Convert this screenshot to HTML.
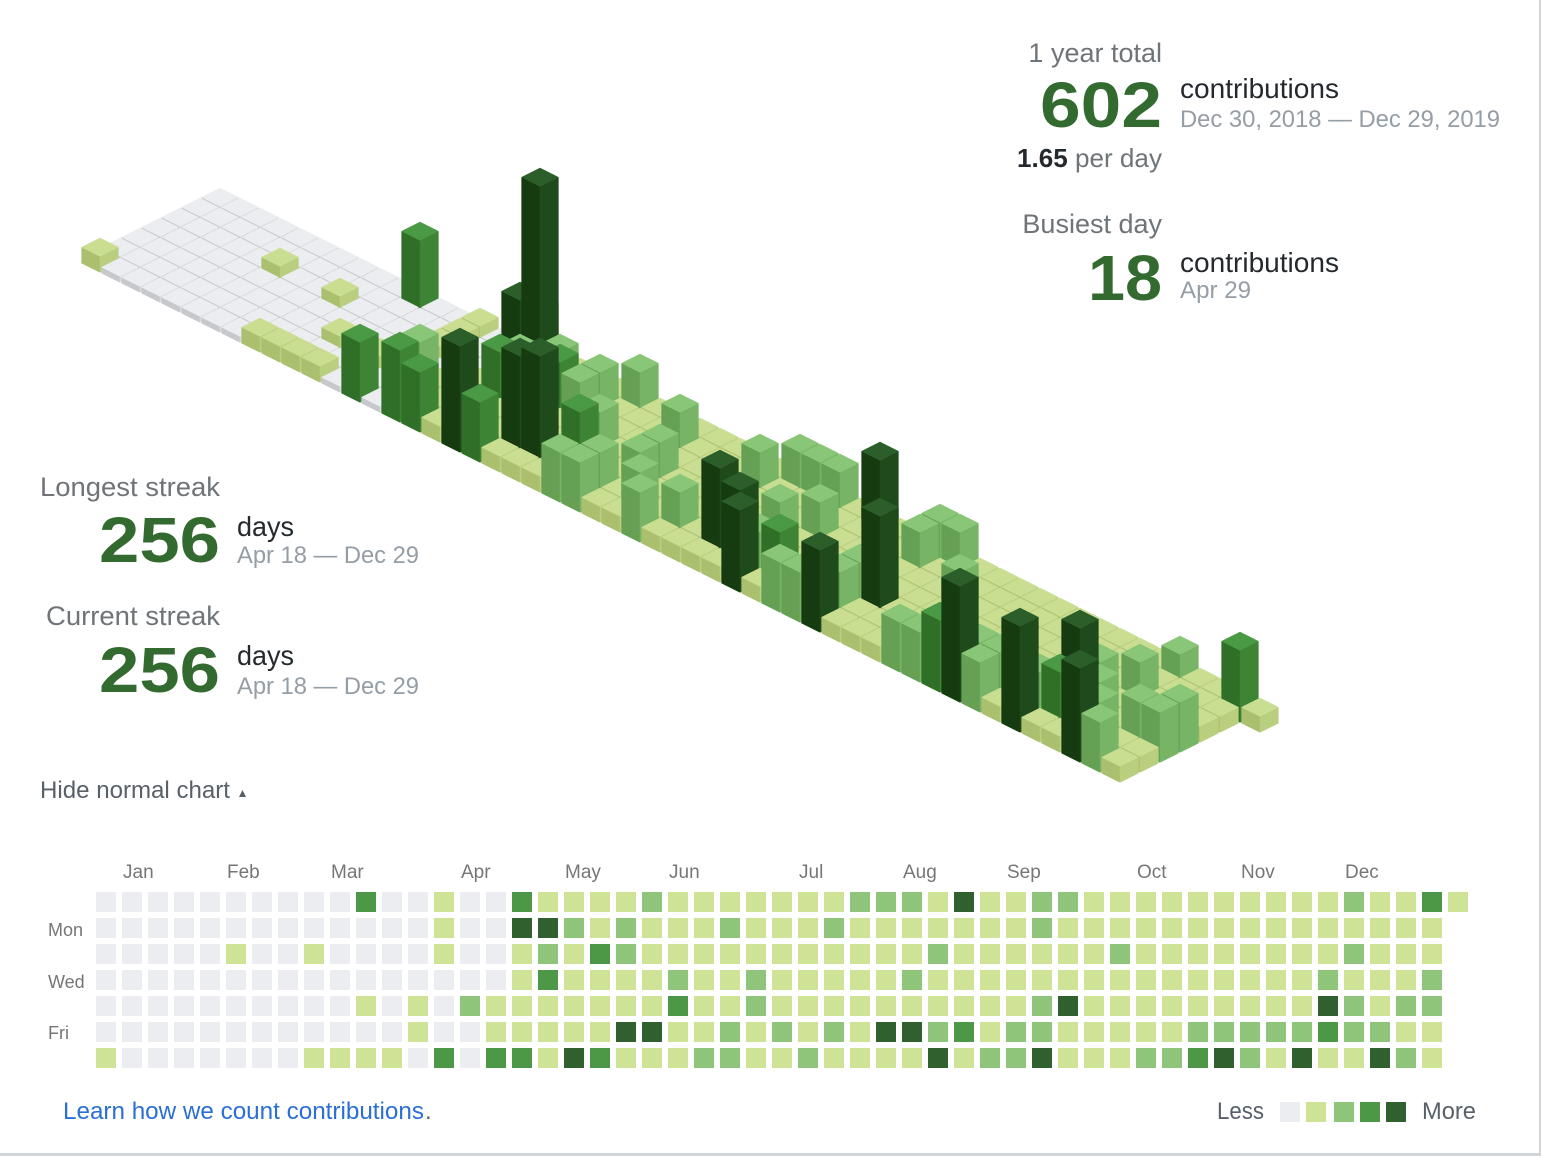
<!DOCTYPE html>
<html>
<head>
<meta charset="utf-8">
<style>
  html, body { margin:0; padding:0; background:#fff; }
  body { width:1542px; height:1158px; overflow:hidden; position:relative; }
  svg { position:absolute; left:0; top:0; }
  text { font-family: "Liberation Sans", Arial, sans-serif; }
</style>
</head>
<body>
<svg id="s" width="1542" height="1158" viewBox="0 0 1542 1158" xmlns="http://www.w3.org/2000/svg">
  <!-- borders -->
  <rect x="1539" y="0" width="2" height="1156" fill="#d1d5da"/>
  <rect x="0" y="1153" width="1541" height="3" fill="#d1d5da"/>

  <!-- isometric chart -->
  <g id="iso"></g>

  <!-- right stats -->
  <text x="1162" y="62" font-size="27" fill="#6f7479" text-anchor="end">1 year total</text>
  <text x="1040" y="127" font-size="64" font-weight="bold" fill="#336a2f" textLength="122" lengthAdjust="spacingAndGlyphs">602</text>
  <text x="1180" y="98" font-size="28" fill="#24292e" textLength="159" lengthAdjust="spacingAndGlyphs">contributions</text>
  <text x="1180" y="127" font-size="24" fill="#959da5" textLength="320" lengthAdjust="spacingAndGlyphs">Dec 30, 2018 — Dec 29, 2019</text>
  <text x="1017" y="167" font-size="26" fill="#6f7479" textLength="145" lengthAdjust="spacingAndGlyphs"><tspan font-weight="bold" fill="#24292e">1.65</tspan> per day</text>

  <text x="1162" y="233" font-size="27" fill="#6f7479" text-anchor="end">Busiest day</text>
  <text x="1088" y="300" font-size="64" font-weight="bold" fill="#336a2f" textLength="74" lengthAdjust="spacingAndGlyphs">18</text>
  <text x="1180" y="272" font-size="28" fill="#24292e" textLength="159" lengthAdjust="spacingAndGlyphs">contributions</text>
  <text x="1180" y="298" font-size="24" fill="#959da5" textLength="71" lengthAdjust="spacingAndGlyphs">Apr 29</text>

  <!-- left stats -->
  <text x="40" y="496" font-size="27" fill="#6f7479" textLength="180" lengthAdjust="spacingAndGlyphs">Longest streak</text>
  <text x="99" y="562" font-size="64" font-weight="bold" fill="#336a2f" textLength="121" lengthAdjust="spacingAndGlyphs">256</text>
  <text x="237" y="536" font-size="28" fill="#24292e" textLength="57" lengthAdjust="spacingAndGlyphs">days</text>
  <text x="237" y="563" font-size="24" fill="#959da5" textLength="182" lengthAdjust="spacingAndGlyphs">Apr 18 — Dec 29</text>

  <text x="46" y="625" font-size="27" fill="#6f7479" textLength="174" lengthAdjust="spacingAndGlyphs">Current streak</text>
  <text x="99" y="692" font-size="64" font-weight="bold" fill="#336a2f" textLength="121" lengthAdjust="spacingAndGlyphs">256</text>
  <text x="237" y="665" font-size="28" fill="#24292e" textLength="57" lengthAdjust="spacingAndGlyphs">days</text>
  <text x="237" y="694" font-size="24" fill="#959da5" textLength="182" lengthAdjust="spacingAndGlyphs">Apr 18 — Dec 29</text>

  <text x="40" y="798" font-size="24" fill="#586069" textLength="190" lengthAdjust="spacingAndGlyphs">Hide normal chart</text>
  <polygon points="239,797 246,797 242.5,790" fill="#586069"/>

  <!-- month labels -->
  <g font-size="19" fill="#767676">
    <text x="123" y="878">Jan</text>
    <text x="227" y="878">Feb</text>
    <text x="331" y="878">Mar</text>
    <text x="461" y="878">Apr</text>
    <text x="565" y="878">May</text>
    <text x="669" y="878">Jun</text>
    <text x="799" y="878">Jul</text>
    <text x="903" y="878">Aug</text>
    <text x="1007" y="878">Sep</text>
    <text x="1137" y="878">Oct</text>
    <text x="1241" y="878">Nov</text>
    <text x="1345" y="878">Dec</text>
  </g>
  <g font-size="18" fill="#767676">
    <text x="48" y="936">Mon</text>
    <text x="48" y="988">Wed</text>
    <text x="48" y="1039">Fri</text>
  </g>

  <!-- normal grid -->
  <g id="grid"></g>

  <!-- footer -->
  <text x="63" y="1119" font-size="24" fill="#2a6fd6" textLength="361" lengthAdjust="spacingAndGlyphs">Learn how we count contributions</text>
  <text x="425" y="1119" font-size="24" fill="#586069">.</text>

  <text x="1217" y="1119" font-size="24" fill="#586069" textLength="47" lengthAdjust="spacingAndGlyphs">Less</text>
  <rect x="1280" y="1102" width="20" height="20" fill="#ebedf0"/>
  <rect x="1306" y="1102" width="20" height="20" fill="#cfe397"/>
  <rect x="1334" y="1102" width="20" height="20" fill="#8fc57a"/>
  <rect x="1360" y="1102" width="20" height="20" fill="#4c9846"/>
  <rect x="1386" y="1102" width="20" height="20" fill="#2f602d"/>
  <text x="1422" y="1119" font-size="24" fill="#586069" textLength="54" lengthAdjust="spacingAndGlyphs">More</text>
</svg>

<script>
(function(){
  var W = [
    "0000001","0000000","0000000","0000000","0000000","0010000","0000000","0000000",
    "0010001","0000001","3000101","0000001","0000110","1110003","0000200","0000113",
    "3411113","1423111","1211114","1131113","1221141","2111141","1112311","1111112",
    "1211122","1112211","1111121","1111112","1211121","2111111","2111141","2112141",
    "1121124","4111131","1111112","1111122","2211224","2111411","1111111","1121111",
    "1111112","1111112","1111123","1111124","1111122","1111121","1111124","1112431",
    "2121221","1111124","1111212","3112211","1"
  ];
  var over = {
    "16,1":7,"17,1":18,"18,6":9,"20,5":9,"21,5":10,"30,5":8,"31,5":7,"32,6":7,
    "33,0":7,"36,6":7,"37,4":9,"43,6":10,"46,6":9,"47,4":8,"49,6":8,
    "10,0":6,"15,6":6,"51,0":6,"42,6":6,"48,0":3
  };
  var def = [0,1,4,5,8];
  var TOP   = ["#ebedf0","#c9de91","#8ac677","#4a9944","#2c5e2a"];
  var LEFT  = ["#c6c8cc","#aac06e","#65a055","#2f6f27","#163b11"];
  var RIGHT = ["#d9dbde","#b9cf7f","#77b466","#3d8434","#1f4a1b"];
  var GRID  = ["#ebedf0","#cfe397","#8fc57a","#4c9846","#2f602d"];
  var s = 18.4;
  var iso = [], grid = [];
  function f(n){ return (Math.round(n*100)/100); }
  for (var w = 0; w < W.length; w++) {
    for (var d = 0; d < W[w].length; d++) {
      var lv = +W[w].charAt(d);
      var key = w + "," + d;
      var c = (key in over) ? over[key] : def[lv];
      var h = 2 * (3 + Math.floor(100 * c / 18));
      var tx = 220 + 20 * (w - d);
      var ty = 194 + 10 * (w + d) - h;
      var t = f(tx)+","+f(ty)+" "+f(tx+s)+","+f(ty+s/2)+" "+f(tx)+","+f(ty+s)+" "+f(tx-s)+","+f(ty+s/2);
      var l = f(tx-s)+","+f(ty+s/2)+" "+f(tx)+","+f(ty+s)+" "+f(tx)+","+f(ty+s+h)+" "+f(tx-s)+","+f(ty+s/2+h);
      var r = f(tx)+","+f(ty+s)+" "+f(tx+s)+","+f(ty+s/2)+" "+f(tx+s)+","+f(ty+s/2+h)+" "+f(tx)+","+f(ty+s+h);
      iso.push('<polygon points="'+l+'" fill="'+LEFT[lv]+'" stroke="'+LEFT[lv]+'" stroke-width="0.5"/>');
      iso.push('<polygon points="'+r+'" fill="'+RIGHT[lv]+'" stroke="'+RIGHT[lv]+'" stroke-width="0.5"/>');
      iso.push('<polygon points="'+t+'" fill="'+TOP[lv]+'" stroke="'+TOP[lv]+'" stroke-width="0.5"/>');
      grid.push('<rect x="'+(96+26*w)+'" y="'+(892+26*d)+'" width="20" height="20" fill="'+GRID[lv]+'"/>');
    }
  }
  document.getElementById("iso").innerHTML = iso.join("");
  document.getElementById("grid").innerHTML = grid.join("");
})();
</script>
</body>
</html>
